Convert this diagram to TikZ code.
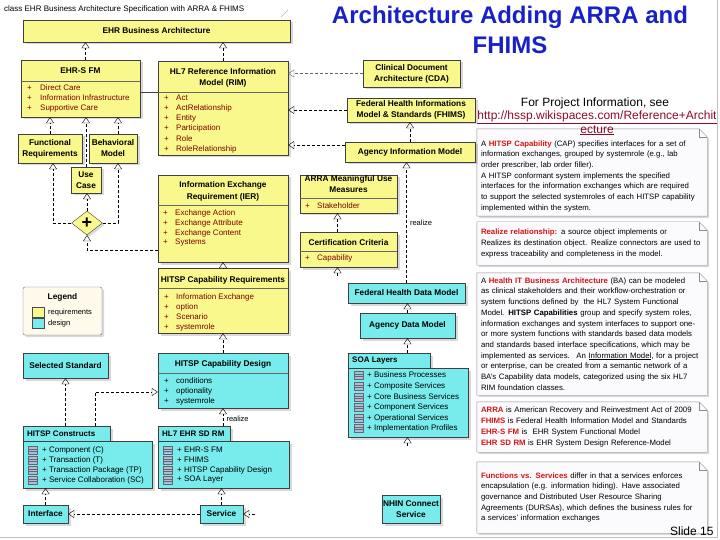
\documentclass[tikz,border=0pt]{standalone}
\usepackage{fontspec}
\setmainfont{Liberation Sans}
\usepackage{tikz}
\usetikzlibrary{arrows.meta,calc,shapes.geometric,shadows,backgrounds}
\tikzset{>={Triangle[open,length=6pt,width=8pt]}}
\definecolor{reqyellow}{RGB}{248,248,140}
\definecolor{desigcyan}{RGB}{120,236,236}
\definecolor{attrred}{RGB}{128,0,0}
\definecolor{notered}{RGB}{214,20,20}
\definecolor{titleblue}{RGB}{24,32,200}
\definecolor{urlred}{RGB}{140,10,40}
\definecolor{legendcream}{RGB}{255,250,235}
\definecolor{notefill}{RGB}{251,250,253}
\definecolor{iconblue}{RGB}{170,190,225}

\tikzset{
  umlbox/.style={draw=black!75, drop shadow={shadow xshift=2.5pt,shadow yshift=-2.5pt,opacity=.3}, inner sep=1pt, align=center, font=\fontsize{8.3}{11}\selectfont\bfseries},
  reqbox/.style={umlbox, fill=reqyellow},
  desbox/.style={umlbox, fill=desigcyan},
  boxtitle/.style={inner sep=0, align=center, font=\fontsize{8.3}{11.5}\selectfont\bfseries},
  tabtitle/.style={anchor=west, inner sep=0, font=\fontsize{8}{9}\selectfont\bfseries},
  attr/.style={anchor=west, inner sep=0, text=attrred, font=\fontsize{8}{9}\selectfont},
  item/.style={anchor=west, inner sep=0, font=\fontsize{8}{9}\selectfont},
  realize/.style={->, dash pattern=on 3pt off 2pt},
  notetext/.style={text width=222pt, inner sep=4pt, align=left, font=\fontsize{7.8}{10.7}\selectfont},
  noteshape/.style={draw=black!45, fill=notefill, drop shadow={shadow xshift=2pt,shadow yshift=-2pt,opacity=.3}},
  icon/.style={draw=black!60, fill=iconblue},
}

\begin{document}
\begin{tikzpicture}[x=1pt, y=-1pt]
  \useasboundingbox (0,0) rectangle (720,540);
  % frame and heading
  \draw [black!25] (717,0) -- (717,537) -- (0,537);
  \draw [black!30] (281,17) -- (288,10);
  \node [anchor=west, inner sep=0, font=\fontsize{8}{9}\selectfont] (frametag) at (4,9) {class EHR Business Architecture Specification with ARRA \& FHIMS};
  \node [align=center, text=titleblue, font=\fontsize{24}{30}\selectfont\bfseries] (title) at (510,30) {Architecture Adding ARRA and\\FHIMS};
  \node [font=\fontsize{12}{14}\selectfont] (projinfo) at (595,103) {For Project Information, see};
  \node [align=center, text=urlred, font=\fontsize{12}{13.5}\selectfont] (projurl) at (597,123) {\underline{http://hssp.wikispaces.com/Reference+Archit}\\\underline{ecture}};
  \node [anchor=east, font=\fontsize{12}{13}\selectfont] (slideno) at (717,531) {Slide 15};

  % requirements side
  \node [reqbox, minimum width=267, minimum height=22] (ehrba) at (156.5,31) {EHR Business Architecture};

  \node [reqbox, minimum width=119, minimum height=57] (ehrsfm) at (80.5,88.5) {};
  \node [boxtitle] (ehrsfmT) at (80.5,71) {EHR-S FM};
  \draw [black!60] (ehrsfm.west |- 0,81) -- (ehrsfm.east |- 0,81);
  \node [attr] (ehrsfmA) at (27,88) {\makebox[13pt][l]{+}Direct Care};
  \node [attr] (ehrsfmB) at (27,98) {\makebox[13pt][l]{+}Information Infrastructure};
  \node [attr] (ehrsfmC) at (27,108) {\makebox[13pt][l]{+}Supportive Care};

  \node [reqbox, minimum width=64, minimum height=29] (funcreq) at (50,148.5) {Functional\\Requirements};
  \node [reqbox, minimum width=48, minimum height=29] (behmodel) at (113,148.5) {Behavioral\\Model};
  \node [reqbox, minimum width=30, minimum height=26] (usecase) at (86,180) {Use\\Case};
  \node [diamond, draw=black!75, fill=reqyellow, minimum width=31, minimum height=24, inner sep=0, drop shadow={shadow xshift=2pt,shadow yshift=-2pt,opacity=.3}, font=\fontsize{18}{18}\selectfont\bfseries] (plusdiamond) at (87,223) {+};

  \node [reqbox, minimum width=130, minimum height=94] (rim) at (223,108) {};
  \node [boxtitle] (rimT) at (223,78) {HL7 Reference Information\\Model (RIM)};
  \draw [black!60] (rim.west |- 0,92) -- (rim.east |- 0,92);
  \node [attr] (rimA) at (164,98) {\makebox[12pt][l]{+}Act};
  \node [attr] (rimB) at (164,108) {\makebox[12pt][l]{+}ActRelationship};
  \node [attr] (rimC) at (164,118) {\makebox[12pt][l]{+}Entity};
  \node [attr] (rimD) at (164,128.5) {\makebox[12pt][l]{+}Participation};
  \node [attr] (rimE) at (164,139) {\makebox[12pt][l]{+}Role};
  \node [attr] (rimF) at (164,149) {\makebox[12pt][l]{+}RoleRelationship};

  \node [reqbox, minimum width=97, minimum height=27] (cda) at (411.5,73.5) {Clinical Document\\Architecture (CDA)};
  \node [reqbox, minimum width=128, minimum height=24] (fhims) at (411,110) {Federal Health Informations\\Model \& Standards (FHIMS)};
  \node [reqbox, minimum width=130, minimum height=20] (aim) at (410,152) {Agency Information Model};

  \node [reqbox, minimum width=97, minimum height=38] (arra) at (348.5,194) {};
  \node [boxtitle] (arraT) at (348.5,184) {ARRA Meaningful Use\\Measures};
  \draw [black!60] (arra.west |- 0,198) -- (arra.east |- 0,198);
  \node [attr] (arraA) at (305,205.5) {\makebox[12pt][l]{+}Stakeholder};

  \node [reqbox, minimum width=97, minimum height=35] (certcrit) at (348.5,249.5) {};
  \node [boxtitle] (certcritT) at (348.5,243) {Certification Criteria};
  \draw [black!60] (certcrit.west |- 0,251) -- (certcrit.east |- 0,251);
  \node [attr] (certcritA) at (305,258.5) {\makebox[12pt][l]{+}Capability};

  \node [reqbox, minimum width=130, minimum height=87] (ier) at (223,218.5) {};
  \node [boxtitle] (ierT) at (223,191.5) {Information Exchange\\Requirement (IER)};
  \draw [black!60] (ier.west |- 0,205) -- (ier.east |- 0,205);
  \node [attr] (ierA) at (163,213) {\makebox[12pt][l]{+}Exchange Action};
  \node [attr] (ierB) at (163,223) {\makebox[12pt][l]{+}Exchange Attribute};
  \node [attr] (ierC) at (163,233) {\makebox[12pt][l]{+}Exchange Content};
  \node [attr] (ierD) at (163,243) {\makebox[12pt][l]{+}Systems};

  \node [reqbox, minimum width=130, minimum height=65] (hitspcapreq) at (223,300.5) {};
  \node [boxtitle] (hitspcapreqT) at (223,280) {HITSP Capability Requirements};
  \draw [black!60] (hitspcapreq.west |- 0,288) -- (hitspcapreq.east |- 0,288);
  \node [attr] (hitspcapreqA) at (164,297) {\makebox[12pt][l]{+}Information Exchange};
  \node [attr] (hitspcapreqB) at (164,307) {\makebox[12pt][l]{+}option};
  \node [attr] (hitspcapreqC) at (164,317) {\makebox[12pt][l]{+}Scenario};
  \node [attr] (hitspcapreqD) at (164,327) {\makebox[12pt][l]{+}systemrole};

  % legend
  \node [draw=black!60, fill=legendcream, rounded corners=2pt, minimum width=79, minimum height=48, drop shadow={shadow xshift=2pt,shadow yshift=-2pt,opacity=.3}] (legend) at (62.5,311) {};
  \node [boxtitle] (legendT) at (62.5,297) {Legend};
  \node [draw=black!70, fill=reqyellow, minimum width=12, minimum height=10, inner sep=0] (legendreq) at (38,312.5) {};
  \node [draw=black!70, fill=desigcyan, minimum width=12, minimum height=10, inner sep=0] (legenddes) at (38,323.5) {};
  \node [anchor=west, inner sep=0, font=\fontsize{7.5}{8}\selectfont] (legendreqL) at (48,312.5) {requirements};
  \node [anchor=west, inner sep=0, font=\fontsize{7.5}{8}\selectfont] (legenddesL) at (48,323.5) {design};

  % design side
  \node [desbox, minimum width=85, minimum height=25] (selstd) at (65.5,365.5) {Selected Standard};

  \node [desbox, minimum width=130, minimum height=55] (hitspcapdes) at (223,380.5) {};
  \node [boxtitle] (hitspcapdesT) at (223,364.5) {HITSP Capability Design};
  \draw [black!60] (hitspcapdes.west |- 0,373) -- (hitspcapdes.east |- 0,373);
  \node [item] (hitspcapdesA) at (164,381) {\makebox[12pt][l]{+}conditions};
  \node [item] (hitspcapdesB) at (164,391) {\makebox[12pt][l]{+}optionality};
  \node [item] (hitspcapdesC) at (164,401) {\makebox[12pt][l]{+}systemrole};

  \node [desbox, minimum width=87, minimum height=15] (consttab) at (66.5,433.5) {};
  \node [desbox, minimum width=129, minimum height=47] (constbody) at (87.5,464.5) {};
  \node [tabtitle] (consttabT) at (27,433.5) {HITSP Constructs};
  \draw [icon] (28,446) rectangle (37,454) (28,449) -- (37,449) (28,451.5) -- (37,451.5);
  \draw [icon] (28,456) rectangle (37,464) (28,459) -- (37,459) (28,461.5) -- (37,461.5);
  \draw [icon] (28,466) rectangle (37,474) (28,469) -- (37,469) (28,471.5) -- (37,471.5);
  \draw [icon] (28,476) rectangle (37,484) (28,479) -- (37,479) (28,481.5) -- (37,481.5);
  \node [item] (constA) at (42,450) {+ Component (C)};
  \node [item] (constB) at (42,460) {+ Transaction (T)};
  \node [item] (constC) at (42,470) {+ Transaction Package (TP)};
  \node [item] (constD) at (42,480) {+ Service Collaboration (SC)};

  \node [desbox, minimum width=72, minimum height=15] (sdrmtab) at (194,433.5) {};
  \node [desbox, minimum width=131, minimum height=47] (sdrmbody) at (223.5,464.5) {};
  \node [tabtitle] (sdrmtabT) at (162,433.5) {HL7 EHR SD RM};
  \draw [icon] (163,446) rectangle (172,454) (163,449) -- (172,449) (163,451.5) -- (172,451.5);
  \draw [icon] (163,456) rectangle (172,464) (163,459) -- (172,459) (163,461.5) -- (172,461.5);
  \draw [icon] (163,466) rectangle (172,474) (163,469) -- (172,469) (163,471.5) -- (172,471.5);
  \draw [icon] (163,476) rectangle (172,484) (163,479) -- (172,479) (163,481.5) -- (172,481.5);
  \node [item] (sdrmA) at (177,450) {+ EHR-S FM};
  \node [item] (sdrmB) at (177,460) {+ FHIMS};
  \node [item] (sdrmC) at (177,470) {+ HITSP Capability Design};
  \node [item] (sdrmD) at (177,480) {+ SOA Layer};

  \node [desbox, minimum width=45, minimum height=18] (interface) at (45.5,514) {Interface};
  \node [desbox, minimum width=43, minimum height=18] (service) at (221.5,514) {Service};

  \node [desbox, minimum width=117, minimum height=20] (fhdm) at (406.5,293) {Federal Health Data Model};
  \node [desbox, minimum width=95, minimum height=25] (adm) at (407.5,325.5) {Agency Data Model};

  \node [desbox, minimum width=82, minimum height=15] (soatab) at (389,360.5) {};
  \node [desbox, minimum width=120, minimum height=69] (soa) at (408,402.5) {};
  \node [tabtitle] (soatabT) at (352,360.5) {SOA Layers};
  \draw [icon] (354,371) rectangle (363,379) (354,374) -- (363,374) (354,376.5) -- (363,376.5);
  \draw [icon] (354,382) rectangle (363,390) (354,385) -- (363,385) (354,387.5) -- (363,387.5);
  \draw [icon] (354,393) rectangle (363,401) (354,396) -- (363,396) (354,398.5) -- (363,398.5);
  \draw [icon] (354,403) rectangle (363,411) (354,406) -- (363,406) (354,408.5) -- (363,408.5);
  \draw [icon] (354,414) rectangle (363,422) (354,417) -- (363,417) (354,419.5) -- (363,419.5);
  \draw [icon] (354,424) rectangle (363,432) (354,427) -- (363,427) (354,429.5) -- (363,429.5);
  \node [item] (soaA) at (367,375) {+ Business Processes};
  \node [item] (soaB) at (367,386) {+ Composite Services};
  \node [item] (soaC) at (367,397) {+ Core Business Services};
  \node [item] (soaD) at (367,407) {+ Component Services};
  \node [item] (soaE) at (367,418) {+ Operational Services};
  \node [item] (soaF) at (367,428) {+ Implementation Profiles};

  \node [desbox, minimum width=58, minimum height=28] (nhin) at (411,509) {NHIN Connect\\Service};

  % connectors
  \draw [realize] ([xshift=5pt]ehrsfm.north) -- ([xshift=5pt]ehrsfm.north |- ehrba.south);
  \draw [realize] (rim.north) -- (rim.north |- ehrba.south);
  \draw [black!75] ([yshift=-3.5pt]ehrsfm.east) -- ([yshift=-3.5pt]ehrsfm.east -| rim.west);
  \draw [realize] (funcreq.north) -- (funcreq.north |- ehrsfm.south);
  \draw [realize] ([xshift=5pt]behmodel.north) -- ([xshift=5pt]behmodel.north |- ehrsfm.south);
  \draw [realize] (usecase.north) -- (usecase.north |- ehrsfm.south);
  \draw [realize] (plusdiamond.north) -- (plusdiamond.north |- usecase.south);
  \draw [realize] (plusdiamond.west) -| ([xshift=3pt]funcreq.south);
  \draw [realize] (plusdiamond.east) -| ([xshift=5pt]behmodel.south);
  \draw [realize] ([yshift=-31.5pt]ier.west) -| (plusdiamond.south);
  \draw [realize, black!60] (cda.west) -- (cda.west -| rim.east);
  \draw [realize] (fhims.west) -- (fhims.west -| rim.east);
  \draw [realize] ([yshift=7pt]aim.west) -- ([yshift=7pt]aim.west -| rim.east);
  \draw [realize] (aim.north) -- (aim.north |- fhims.south);
  \draw [realize] (fhdm.north) -- (fhdm.north |- aim.south) node [midway, right, font=\fontsize{7.5}{8}\selectfont] (realizeA) {realize};
  \draw [realize] (adm.north) -- (adm.north |- fhdm.south);
  \draw [realize] (adm.south |- soatab.north) -- (adm.south);
  \coordinate (soafoot) at ($(soa.south -| adm.south)+(0,9)$);
  \draw [realize] (soafoot) -- (soafoot |- soa.south);
  \draw [realize] ([xshift=-11pt]certcrit.north) -- ([xshift=-11pt]certcrit.north |- arra.south);
  \coordinate (certfoot) at ($(certcrit.south)+(-11,9)$);
  \draw [realize] (certfoot) -- (certfoot |- certcrit.south);
  \draw [realize] (hitspcapreq.north) -- (hitspcapreq.north |- ier.south);
  \draw [realize] (hitspcapdes.north) -- (hitspcapdes.north |- hitspcapreq.south);
  \draw [realize] (hitspcapdes.south |- sdrmtab.north) -- (hitspcapdes.south) node [pos=0.4, right, font=\fontsize{7.5}{8}\selectfont] (realizeB) {realize};
  \draw [realize] (selstd.south |- consttab.north) -- (selstd.south);
  \draw [realize] ([xshift=28.5pt]consttab.north) |- ([yshift=-11.5pt]hitspcapdes.west);
  \draw [realize] (interface.north) -- (interface.north |- constbody.south);
  \draw [realize] (service.north) -- (service.north |- sdrmbody.south);
  \draw [realize] (service.west) -- (interface.east);
  \coordinate (servicefoot) at ($(service.east)+(12,0)$);
  \draw [realize] (servicefoot) -- (service.east);

  % notes
  \node [notetext, minimum height=85] (note1) at (592,172.5) {\rule{0pt}{13pt}A \textcolor{notered}{\textbf{HITSP Capability}} (CAP) specifies interfaces for a set of\\information exchanges, grouped by systemrole (e.g., lab\\order prescriber, lab order filler).\\A HITSP conformant system implements the specified\\interfaces for the information exchanges which are required\\to support the selected systemroles of each HITSP capability\\implemented within the system.};
  \node [notetext, minimum height=43] (note2) at (592,243.5) {\textcolor{notered}{\textbf{Realize relationship:}} a source object implements or\\Realizes its destination object. Realize connectors are used to\\express traceability and completeness in the model.};
  \node [notetext, minimum height=122] (note3) at (592,334) {A \textcolor{notered}{\textbf{Health IT Business Architecture}} (BA) can be modeled\\as clinical stakeholders and their workflow-orchestration or\\system functions defined by \ the HL7 System Functional\\Model. \textbf{HITSP Capabilities} group and specify system roles,\\information exchanges and system interfaces to support one-\\or more system functions with standards based data models\\and standards based interface specifications, which may be\\implemented as services. \ An \underline{Information Model}, for a project\\or enterprise, can be created from a semantic network of a\\BA's Capability data models, categorized using the six HL7\\RIM foundation classes.};
  \node [notetext, minimum height=50] (note4) at (592,427) {\textcolor{notered}{\textbf{ARRA}} is American Recovery and Reinvestment Act of 2009\\\textcolor{notered}{\textbf{FHIMS}} is Federal Health Information Model and Standards\\\textcolor{notered}{\textbf{EHR-S FM}} is \ EHR System Functional Model\\\textcolor{notered}{\textbf{EHR SD RM}} is EHR System Design Reference-Model};
  \node [notetext, minimum height=71] (note5) at (592,497.5) {\textcolor{notered}{\textbf{Functions vs. Services}} differ in that a services enforces\\encapsulation (e.g. information hiding). Have associated\\governance and Distributed User Resource Sharing\\Agreements (DURSAs), which defines the business rules for\\a services' information exchanges};

  \begin{scope}[on background layer]
    \filldraw [noteshape] (note1.south west) -- (note1.north west) -- ([xshift=-8pt]note1.north east) -- ([yshift=-8pt]note1.north east) -- (note1.south east) -- cycle;
    \draw [black!45] ([xshift=-8pt]note1.north east) |- ([yshift=-8pt]note1.north east);
    \filldraw [noteshape] (note2.south west) -- (note2.north west) -- ([xshift=-8pt]note2.north east) -- ([yshift=-8pt]note2.north east) -- (note2.south east) -- cycle;
    \draw [black!45] ([xshift=-8pt]note2.north east) |- ([yshift=-8pt]note2.north east);
    \filldraw [noteshape] (note3.south west) -- (note3.north west) -- ([xshift=-8pt]note3.north east) -- ([yshift=-8pt]note3.north east) -- (note3.south east) -- cycle;
    \draw [black!45] ([xshift=-8pt]note3.north east) |- ([yshift=-8pt]note3.north east);
    \filldraw [noteshape] (note4.south west) -- (note4.north west) -- ([xshift=-8pt]note4.north east) -- ([yshift=-8pt]note4.north east) -- (note4.south east) -- cycle;
    \draw [black!45] ([xshift=-8pt]note4.north east) |- ([yshift=-8pt]note4.north east);
    \filldraw [noteshape] (note5.south west) -- (note5.north west) -- ([xshift=-8pt]note5.north east) -- ([yshift=-8pt]note5.north east) -- (note5.south east) -- cycle;
    \draw [black!45] ([xshift=-8pt]note5.north east) |- ([yshift=-8pt]note5.north east);
  \end{scope}
\end{tikzpicture}
\end{document}
